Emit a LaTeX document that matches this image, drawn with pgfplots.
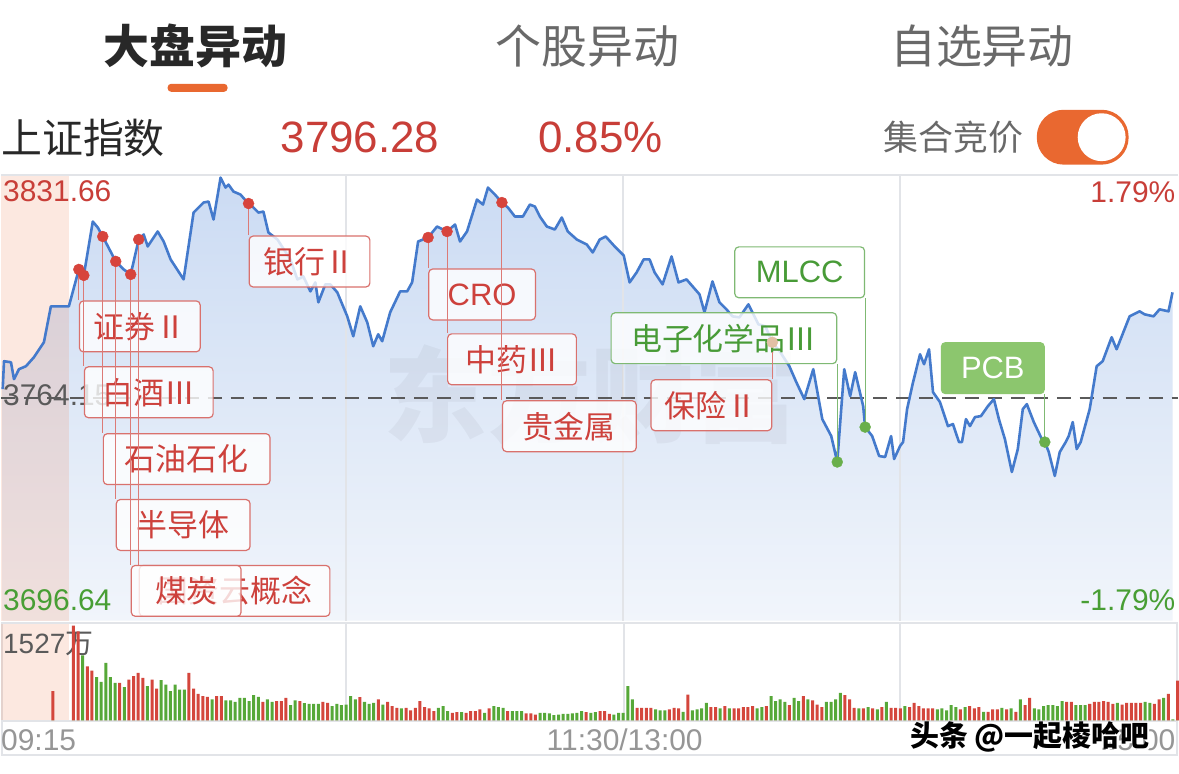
\documentclass[border=0pt]{standalone}
\usepackage{pgfplots}
\pgfplotsset{compat=1.18}
\usepackage{pgfplotstable}
\usepackage{fontspec}
\setmainfont{Noto Sans CJK SC}
\newfontfamily\num{Liberation Sans}
\newcommand\fs[1]{\fontsize{#1}{#1}\selectfont}

\definecolor{txtdark}{RGB}{40,40,40}
\definecolor{txtgray}{RGB}{105,105,105}
\definecolor{lblgray}{RGB}{90,90,90}
\definecolor{timegray}{RGB}{150,150,150}
\definecolor{upred}{RGB}{200,62,56}
\definecolor{downgreen}{RGB}{72,158,52}
\definecolor{barred}{RGB}{212,70,60}
\definecolor{bargreen}{RGB}{86,168,56}
\definecolor{lineblue}{RGB}{68,122,204}
\definecolor{fillTop}{RGB}{203,219,243}
\definecolor{fillBot}{RGB}{241,245,251}
\definecolor{peach}{RGB}{240,140,100}
\definecolor{gridgray}{RGB}{226,228,232}
\definecolor{orangeUI}{RGB}{233,104,48}
\definecolor{annred}{RGB}{205,65,60}
\definecolor{anngreen}{RGB}{72,155,55}
\definecolor{pcbgreen}{RGB}{140,198,110}
\definecolor{dotred}{RGB}{215,68,60}
\definecolor{dotgreen}{RGB}{105,175,75}
\definecolor{dottan}{RGB}{226,192,165}

\tikzset{
  ann/.style={draw=annred!75!white, line width=1.2pt, rounded corners=4pt, fill=white,
    fill opacity=0.8, text opacity=1, text=annred, minimum height=51pt, inner sep=0pt,
    font=\fs{31}},
  anng/.style={ann, draw=anngreen!70!white, text=anngreen},
  conn/.style={draw=annred!70!white, line width=1pt},
  conng/.style={draw=anngreen!70!white, line width=1pt},
}
% pixel -> axis coordinates (for text placement only)
\newcommand\pxc[2]{(axis cs:{(#1-68)*0.21602},{3831.66-(#2-176)*0.302735})}

\pgfplotstableread{
t p
-14.32 3766.87
-14.04 3775.35
-12.53 3775.05
-11.88 3769.90
-10.80 3772.93
-9.29 3773.84
-7.56 3776.56
-5.40 3781.10
-3.89 3792.00
0.00 3792.00
2.16 3803.20
3.24 3801.39
5.18 3817.73
6.26 3815.92
7.34 3813.19
10.15 3805.63
11.88 3803.20
13.39 3801.69
15.12 3812.29
16.20 3813.80
17.07 3810.17
19.23 3814.71
20.52 3811.68
22.03 3806.23
24.84 3800.18
27.00 3820.46
29.16 3823.49
30.24 3823.79
31.32 3818.34
32.84 3831.05
33.92 3828.03
34.56 3828.94
35.64 3826.82
37.16 3825.91
38.67 3823.49
39.96 3821.97
41.04 3820.46
42.12 3820.76
43.20 3814.40
45.15 3812.29
47.96 3806.23
49.47 3800.18
50.76 3801.08
52.28 3796.54
53.36 3799.27
54.01 3793.21
55.52 3798.66
56.60 3798.66
58.11 3796.24
60.27 3788.97
61.57 3782.92
63.08 3792.00
64.59 3787.16
65.89 3779.89
66.97 3783.53
67.83 3781.41
69.56 3790.19
71.72 3796.54
73.23 3796.54
74.31 3799.27
75.61 3811.68
77.77 3812.89
79.71 3816.22
81.87 3814.71
83.60 3816.83
84.68 3811.68
86.19 3814.71
88.35 3824.39
89.65 3822.88
90.73 3828.03
92.24 3825.91
93.75 3823.49
95.05 3821.97
96.56 3819.25
98.29 3819.25
99.80 3822.88
100.88 3822.28
101.96 3819.25
103.47 3816.22
105.20 3815.31
106.71 3818.95
108.01 3814.71
109.95 3812.29
112.11 3810.77
113.41 3808.35
114.92 3812.29
116.22 3813.19
118.16 3810.17
120.11 3807.44
121.40 3799.27
122.91 3802.30
124.43 3806.23
125.72 3806.23
126.80 3802.30
128.53 3798.66
130.47 3807.14
131.98 3799.27
133.71 3800.18
136.52 3795.64
137.60 3790.19
139.33 3799.57
140.84 3793.21
142.36 3791.09
143.65 3788.97
145.17 3788.67
147.11 3792.61
149.27 3786.55
150.78 3785.95
152.29 3781.10
154.02 3778.08
155.97 3773.84
157.48 3768.99
159.21 3763.85
161.15 3772.93
163.10 3757.79
165.04 3752.65
166.34 3744.78
167.85 3772.93
169.14 3764.76
170.22 3772.02
171.95 3761.73
172.38 3755.37
173.90 3752.65
175.41 3746.59
176.70 3746.29
178.00 3752.65
178.65 3745.68
179.94 3749.62
180.59 3750.83
181.46 3760.82
182.75 3768.99
184.26 3777.47
185.13 3774.44
186.21 3778.98
187.07 3765.97
188.58 3762.94
190.31 3755.67
191.39 3756.28
192.69 3750.83
193.34 3750.83
194.20 3757.79
195.07 3755.67
196.15 3758.40
197.44 3758.70
198.96 3761.73
200.25 3763.85
201.33 3757.79
202.63 3751.74
204.14 3741.75
205.43 3748.71
206.51 3760.82
207.38 3762.33
208.89 3756.89
210.62 3751.74
211.27 3750.83
212.13 3747.80
213.43 3740.54
214.51 3747.80
215.80 3750.83
216.45 3752.65
217.32 3756.89
218.18 3748.71
219.04 3750.83
220.99 3760.82
222.50 3773.84
223.80 3775.35
225.74 3782.62
226.82 3778.98
229.63 3788.97
231.79 3790.49
232.87 3789.58
234.81 3788.97
236.11 3791.09
238.05 3790.49
238.92 3796.24
}\pricedata

% volume (10k shares); red = 1 for a red bar, 0 for a green bar
\pgfplotstableread{
t v red
-3.46 471 1
1 1527 1
2 1436 1
3 1050 0
4 873 1
5 804 1
6 697 0
7 622 0
8 927 0
9 697 0
10 605 0
11 605 1
12 536 0
13 659 1
14 713 1
15 766 1
16 686 1
17 552 0
18 659 1
19 514 1
20 648 0
21 579 0
22 472 0
23 579 0
24 498 0
25 498 0
26 766 1
27 514 1
28 429 1
29 391 1
30 380 1
31 338 0
32 391 1
33 391 1
34 322 0
35 322 0
36 300 0
37 364 0
38 364 0
39 311 0
40 407 0
41 380 0
42 300 1
43 338 0
44 300 0
45 311 1
46 311 1
47 364 1
48 246 0
49 322 0
50 311 1
51 279 0
52 268 0
53 268 0
54 268 0
55 300 1
56 284 1
57 230 0
58 268 0
59 246 0
60 257 0
61 391 0
62 338 0
63 375 1
64 300 0
65 268 0
66 284 0
67 338 1
68 257 0
69 300 1
70 230 1
71 204 1
72 193 0
73 204 1
74 161 1
75 204 1
76 311 1
77 214 1
78 193 1
79 150 1
80 204 0
81 230 0
82 150 0
83 123 1
84 134 1
85 134 0
86 123 1
87 150 1
88 150 1
89 177 1
90 123 0
91 193 1
92 230 0
93 214 0
94 204 0
95 150 1
96 150 0
97 150 0
98 150 0
99 113 1
100 113 1
101 96 1
102 123 0
103 123 0
104 113 0
105 86 0
106 96 0
107 107 0
108 107 0
109 113 0
110 123 0
111 150 0
112 134 1
113 123 0
114 134 0
115 150 1
116 150 1
117 107 1
118 96 0
119 123 0
120 123 0
121 552 0
122 338 0
123 204 1
124 204 1
125 204 1
126 204 1
127 177 0
128 161 0
129 161 0
130 177 1
131 204 1
132 193 1
133 139 0
134 418 1
135 161 0
136 177 0
137 193 0
138 284 0
139 214 1
140 214 1
141 193 0
142 230 1
143 193 0
144 193 1
145 193 1
146 214 1
147 214 1
148 230 1
149 193 0
150 214 0
151 230 1
152 391 0
153 311 0
154 338 0
155 300 0
156 246 1
157 364 0
158 311 0
159 391 1
160 338 0
161 322 1
162 257 1
163 214 1
164 300 0
165 300 0
166 338 0
167 445 0
168 407 1
169 338 1
170 204 1
171 193 0
172 193 1
173 214 0
174 193 1
175 177 0
176 214 1
177 300 0
178 204 1
179 204 1
180 193 1
181 230 0
182 214 1
183 284 1
184 230 1
185 193 1
186 193 1
187 193 1
188 177 0
189 193 0
190 161 0
191 246 0
192 214 0
193 177 1
194 214 0
195 230 1
196 193 1
197 214 1
198 139 0
199 139 1
200 177 1
201 177 1
202 204 0
203 177 1
204 193 0
205 139 1
206 338 0
207 246 1
208 364 1
209 193 0
210 177 0
211 230 0
212 246 0
213 246 0
214 230 0
215 311 0
216 300 1
217 300 1
218 246 0
219 246 0
220 246 0
221 268 1
222 300 1
223 300 1
224 311 1
225 300 1
226 268 1
227 284 0
228 257 1
229 284 1
230 284 1
231 284 1
232 284 1
233 300 0
234 284 0
235 268 1
236 338 1
237 364 0
238 429 1
239 16 0
240 643 1
}\voldata

\begin{document}
\begin{tikzpicture}
\begin{scope}[x=1pt,y=-1pt]
\useasboundingbox (0,0) rectangle (1179,775);
\fill[white] (0,0) rectangle (1179,775);
% tabs
\node[inner sep=0pt, text=txtdark, font=\fs{46}\bfseries] at (195,46) {大盘异动};
\node[inner sep=0pt, text=txtgray, font=\fs{46}] at (588,46) {个股异动};
\node[inner sep=0pt, text=txtgray, font=\fs{46}] at (983,46) {自选异动};
\fill[orangeUI, rounded corners=3.5pt] (167,84) rectangle (227,92);
% index row
\node[inner sep=0pt, anchor=west, text=txtdark, font=\fs{41}] at (0,138) {上证指数};
\node[inner sep=0pt, anchor=base west, text=upred, font=\num\fs{44}] at (280,153) {3796.28};
\node[inner sep=0pt, anchor=base west, text=upred, font=\num\fs{44}] at (538,153) {0.85\%};
\node[inner sep=0pt, anchor=east, text=txtgray, font=\fs{35}] at (1025,138) {集合竞价};
\fill[orangeUI, rounded corners=27pt] (1038,110) rectangle (1130,165);
\fill[white] (1103,137.5) circle (24pt);
% frame lines
\draw[gridgray, line width=2pt] (0,175) -- (1179,175);
\draw[gridgray, line width=2pt] (0,624) -- (1179,624);
\draw[gridgray, line width=2pt] (0,723) -- (1179,723);
\draw[gridgray, line width=2pt] (0,757) -- (1179,757);
\draw[gridgray, line width=2pt] (1,624) -- (1,757);
\draw[gridgray, line width=2pt] (1178,624) -- (1178,757);
\draw[gridgray, line width=2pt] (346,624) -- (346,723);
\draw[gridgray, line width=2pt] (624,624) -- (624,723);
\draw[gridgray, line width=2pt] (901,624) -- (901,723);
\fill[peach, opacity=0.2] (0,625) rectangle (68,722);
\node[inner sep=0pt, anchor=base west, text=lblgray, font=\fs{28}] at (2,655) {{\num 1527}万};
\end{scope}

% ---------- price chart ----------
\begin{axis}[at={(0pt,-622pt)}, anchor=south west, scale only axis,
  width=1179pt, height=446pt, xmin=-14.69, xmax=240, ymin=3696.64, ymax=3831.66,
  axis lines=none, clip=false]
\addplot[draw=none, top color=fillTop, bottom color=fillBot] table[x=t,y=p]{\pricedata}
  |- (axis cs:-14.32,3696.64) -- cycle;
\fill[peach, opacity=0.2] (axis cs:-14.69,3696.64) rectangle (axis cs:0,3831.66);
\draw[gridgray, line width=2pt] (axis cs:60,3696.64) -- (axis cs:60,3831.66);
\draw[gridgray, line width=2pt] (axis cs:120,3696.64) -- (axis cs:120,3831.66);
\draw[gridgray, line width=2pt] (axis cs:180,3696.64) -- (axis cs:180,3831.66);
\node[inner sep=0pt, anchor=west, text=black, opacity=0.04, font=\fs{104}\bfseries] at \pxc{383}{395} {东方财富};
\draw[lblgray, line width=2pt, dash pattern=on 14pt off 9pt] (axis cs:-14.69,3764.15) -- (axis cs:240,3764.15);
\addplot[lineblue, line width=2.6pt, line join=round] table[x=t,y=p]{\pricedata};
% axis value labels
\node[anchor=base west, inner sep=0pt, text=upred, font=\num\fs{30}] at \pxc{2}{202} {3831.66};
\node[anchor=base east, inner sep=0pt, text=upred, font=\num\fs{30}] at \pxc{1177}{203} {1.79\%};
\node[anchor=base west, inner sep=0pt, text=lblgray, font=\num\fs{30}] at \pxc{2}{406} {3764.15};
\node[anchor=base west, inner sep=0pt, text=downgreen, font=\num\fs{30}] at \pxc{2}{612} {3696.64};
\node[anchor=base east, inner sep=0pt, text=downgreen, font=\num\fs{30}] at \pxc{1177}{612} {-1.79\%};
% event dots
\addplot[only marks, mark=*, mark size=5.5pt, color=dotred] coordinates {
 (2.16,3803.20) (3.24,3801.39) (7.34,3813.19) (10.15,3805.63) (13.39,3801.69) (15.12,3812.29)
 (38.9,3823.2) (77.77,3812.89) (81.87,3814.71) (93.75,3823.49)};
% this event dot lies under the semi-transparent label box in the reference
\addplot[only marks, mark=*, mark size=5.5pt, color=dottan] coordinates {(152.29,3781.10)};
\addplot[only marks, mark=*, mark size=5.5pt, color=dotgreen] coordinates {
 (166.34,3744.78) (172.38,3755.37) (211.27,3750.83)};
% boxes
\node[ann, anchor=north west, minimum width=121pt] at (axis cs:2.16,3793.82) {证券Ⅱ};
\node[ann, anchor=north west, minimum width=129pt] at (axis cs:3.24,3773.84) {白酒Ⅲ};
\node[ann, anchor=north west, minimum width=167pt] at (axis cs:7.34,3753.55) {石油石化};
\node[ann, anchor=north west, minimum width=134pt] at (axis cs:10.15,3733.57) {半导体};
\node[ann, anchor=north west, minimum width=191pt] at (axis cs:15.12,3713.59) {国资云概念};
\node[ann, anchor=north west, minimum width=110pt] at (axis cs:13.39,3713.59) {煤炭};
\node[ann, anchor=north west, minimum width=121pt] at (axis cs:38.9,3813.50) {银行Ⅱ};
\node[ann, anchor=north west, minimum width=107pt] at (axis cs:77.77,3803.51) {{\num CRO}};
\node[ann, anchor=north west, minimum width=129pt] at (axis cs:81.87,3783.83) {中药Ⅲ};
\node[ann, anchor=north west, minimum width=134pt] at (axis cs:93.75,3763.54) {贵金属};
\node[ann, anchor=north east, minimum width=121pt] at (axis cs:152.29,3769.90) {保险Ⅱ};
\node[anng, anchor=south east, minimum width=130pt] at (axis cs:172.38,3794.42) {{\num MLCC}};
\node[anng, anchor=south east, minimum width=226pt] at (axis cs:166.34,3774.44) {电子化学品Ⅲ};
\node[anng, anchor=south east, minimum width=103pt, fill=pcbgreen, fill opacity=1, text=white, draw=pcbgreen] at (axis cs:211.27,3765.36) {{\num PCB}};
% connectors
\draw[conn] (axis cs:2.16,3803.20) -- (axis cs:2.16,3793.82);
\draw[conn] (axis cs:3.24,3801.39) -- (axis cs:3.24,3773.84);
\draw[conn] (axis cs:7.34,3813.19) -- (axis cs:7.34,3753.55);
\draw[conn] (axis cs:10.15,3805.63) -- (axis cs:10.15,3733.57);
\draw[conn] (axis cs:13.39,3801.69) -- (axis cs:13.39,3713.59);
\draw[conn] (axis cs:15.12,3812.29) -- (axis cs:15.12,3713.59);
\draw[conn] (axis cs:38.9,3823.2) -- (axis cs:38.9,3813.50);
\draw[conn] (axis cs:77.77,3812.89) -- (axis cs:77.77,3803.51);
\draw[conn] (axis cs:81.87,3814.71) -- (axis cs:81.87,3783.83);
\draw[conn] (axis cs:93.75,3823.49) -- (axis cs:93.75,3763.54);
\draw[conn] (axis cs:152.29,3778.0) -- (axis cs:152.29,3769.90);
\draw[conng] (axis cs:172.38,3794.42) -- (axis cs:172.38,3755.37);
\draw[conng] (axis cs:166.34,3774.44) -- (axis cs:166.34,3744.78);
\draw[conng] (axis cs:211.27,3765.36) -- (axis cs:211.27,3750.83);
\end{axis}

% ---------- volume ----------
\begin{axis}[at={(0pt,-722pt)}, anchor=south west, scale only axis,
  width=1179pt, height=95pt, xmin=-14.69, xmax=240, ymin=0, ymax=1527,
  axis lines=none, clip=false]
\addplot[ybar, bar width=0.65, bar shift=0pt, fill=barred, draw=none]
  table[x=t, y expr=\thisrow{red}*\thisrow{v}]{\voldata};
\addplot[ybar, bar width=0.65, bar shift=0pt, fill=bargreen, draw=none]
  table[x=t, y expr=(1-\thisrow{red})*\thisrow{v}]{\voldata};
\end{axis}

\begin{scope}[x=1pt,y=-1pt]
\node[inner sep=0pt, anchor=base west, text=timegray, font=\num\fs{30}] at (0,752) {09:15};
\node[inner sep=0pt, anchor=base, text=timegray, font=\num\fs{30}] at (625,752) {11:30/13:00};
\node[inner sep=0pt, anchor=base east, text=timegray, font=\num\fs{30}] at (1177,752) {15:00};
\node[inner sep=0pt, text=white, font=\fs{29}\bfseries] at (1033,740.5) {头条 @一起棱哈吧};
\node[inner sep=0pt, text=black, font=\fs{29}\bfseries] at (1031,739) {头条 @一起棱哈吧};
\end{scope}
\end{tikzpicture}
\end{document}
